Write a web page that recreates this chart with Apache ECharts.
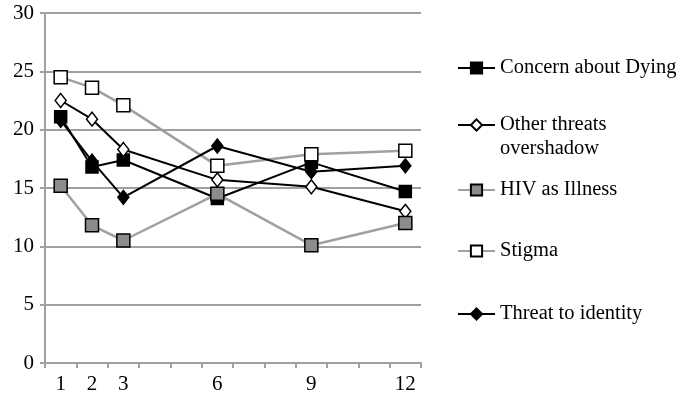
<!DOCTYPE html>
<html><head><meta charset="utf-8">
<script src="https://cdn.jsdelivr.net/npm/echarts@6/dist/echarts.min.js"></script>
<style>html,body{margin:0;padding:0;background:#fff}#c{width:683px;height:403px}</style>
</head><body><div id="c"></div>
<script>
const months = [1,2,3,4,5,6,7,8,9,10,11,12];
const measuredMonths = [1,2,3,6,9,12];
const seriesNames = ['Concern about Dying','Other threats overshadow','HIV as Illness','Stigma','Threat to identity'];
const concernDying   = [21.1,16.8,17.4,14.1,17.2,14.7];
const otherThreats   = [22.5,20.9,18.3,15.7,15.1,13.0];
const hivIllness     = [15.2,11.8,10.5,14.5,10.1,12.0];
const stigma         = [24.5,23.6,22.1,16.9,17.9,18.2];
const threatIdentity = [20.8,17.3,14.2,18.6,16.4,16.9];

const FONT = 'Liberation Serif';
const GRAY = '#a0a0a0';
function full(vals){ return months.map(m => { const i = measuredMonths.indexOf(m); return i < 0 ? null : vals[i]; }); }

const styles = [
  {data: concernDying,   line:'#000', lw:2,   symbol:'rect',    size:12, fill:'#000',    border:'#000'},
  {data: otherThreats,   line:'#000', lw:2,   symbol:'diamond', size:[11,14], fill:'#fff', border:'#000'},
  {data: hivIllness,     line:GRAY,   lw:2.5, symbol:'rect',    size:13, fill:'#8c8c8c', border:'#000'},
  {data: stigma,         line:GRAY,   lw:2.5, symbol:'rect',    size:13, fill:'#fff',    border:'#000'},
  {data: threatIdentity, line:'#000', lw:2,   symbol:'diamond', size:[11,14], fill:'#000', border:'#000'}
];

const series = styles.map((s, k) => ({
  name: seriesNames[k], type: 'line', data: full(s.data), connectNulls: true,
  symbol: s.symbol, symbolSize: s.size, showAllSymbol: true,
  lineStyle: {color: s.line, width: s.lw},
  itemStyle: {color: s.fill, borderColor: s.border, borderWidth: 1.5},
  emphasis: {disabled: true}, animation: false
}));

const legendCenters = [68, 125, 190, 251, 314];
const legends = seriesNames.map((n, k) => ({
  data: [n], orient: 'vertical', left: 457, top: k === 1 ? legendCenters[k] - 36 : legendCenters[k] - 11,
  padding: 0, itemWidth: 37, itemHeight: 14, itemGap: 0, selectedMode: false,
  formatter: k === 1 ? ' \nOther threats\novershadow' : '{name}',
  textStyle: {fontFamily: FONT, fontSize: 20.5, color: '#000', lineHeight: k === 1 ? 24 : 22}
}));

const chart = echarts.init(document.getElementById('c'));
chart.setOption({
  animation: false,
  grid: {left: 45, right: 262, top: 13, bottom: 40, containLabel: false},
  legend: legends,
  xAxis: {
    type: 'category', data: months.map(String), boundaryGap: true,
    axisLine: {lineStyle: {color: GRAY, width: 2}},
    axisTick: {show: true, interval: 0, length: 5, lineStyle: {color: GRAY, width: 2}},
    axisLabel: {interval: 0, margin: 11, fontFamily: FONT, fontSize: 21, color: '#000',
      formatter: v => measuredMonths.includes(+v) ? v : ''},
    splitLine: {show: false}
  },
  yAxis: {
    type: 'value', min: 0, max: 30, interval: 5,
    axisLine: {show: true, lineStyle: {color: GRAY, width: 2}},
    axisTick: {show: true, length: 5, lineStyle: {color: GRAY, width: 2}},
    axisLabel: {margin: 11, fontFamily: FONT, fontSize: 21, color: '#000'},
    splitLine: {show: true, lineStyle: {color: GRAY, width: 2}}
  },
  series: series
});
</script></body></html>
